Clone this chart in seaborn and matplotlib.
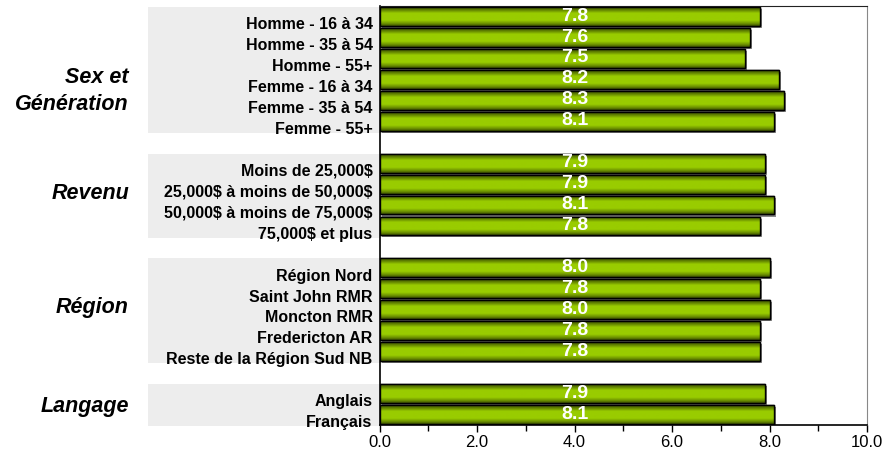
import matplotlib
matplotlib.use('Agg')
import matplotlib.pyplot as plt
from matplotlib import patheffects
from matplotlib.colors import LinearSegmentedColormap
from matplotlib.patches import Rectangle
from matplotlib.ticker import MultipleLocator, FormatStrFormatter
import matplotlib.transforms as mtransforms
import numpy as np
import pandas as pd
import seaborn as sns

# Data
groups = ["Sex et\nGénération", "Revenu", "Région", "Langage"]
categories = [
    ["Homme - 16 à 34", "Homme - 35 à 54", "Homme - 55+",
     "Femme - 16 à 34", "Femme - 35 à 54", "Femme - 55+"],
    ["Moins de 25,000$", "25,000$ à moins de 50,000$",
     "50,000$ à moins de 75,000$", "75,000$ et plus"],
    ["Région Nord", "Saint John RMR", "Moncton RMR",
     "Fredericton AR", "Reste de la Région Sud NB"],
    ["Anglais", "Français"],
]
scores = [
    [7.8, 7.6, 7.5, 8.2, 8.3, 8.1],
    [7.9, 7.9, 8.1, 7.8],
    [8.0, 7.8, 8.0, 7.8, 7.8],
    [7.9, 8.1],
]

# Layout: one empty slot between groups
rows, names, values, group_spans = [], [], [], []
pos = 0
for cats, vals in zip(categories, scores):
    start = pos
    for c, v in zip(cats, vals):
        rows.append(pos)
        names.append(c)
        values.append(v)
        pos += 1
    group_spans.append((start, pos - 1))
    pos += 1

df = pd.DataFrame({"row": rows, "score": values, "label": names})

sns.set_style("white")
plt.rcParams['font.family'] = ['Liberation Sans', 'DejaVu Sans']
plt.rcParams['text.parse_math'] = False  # "$" signs in labels
plt.rcParams['text.color'] = 'black'
plt.rcParams['xtick.labelcolor'] = 'black'
plt.rcParams['ytick.labelcolor'] = 'black'

fig = plt.figure(figsize=(8.88, 4.51), dpi=100)
ax = fig.add_axes([0.4274, 0.0576, 0.5490, 0.9291])

sns.barplot(data=df, x="score", y="row", orient="h", native_scale=True,
            color="#99cc00", edgecolor="black", linewidth=1.0, width=0.9,
            ax=ax, zorder=2)

# 3D-ish cylinder gradient on bars
grad_cmap = LinearSegmentedColormap.from_list(
    "cyl", [(0.0, "#3a4f00"), (0.14, "#5f8000"), (0.32, "#99cc00"),
            (0.70, "#99cc00"), (0.88, "#6b8f00"), (1.0, "#3a4f00")])
grad = np.linspace(0, 1, 64).reshape(-1, 1)
for patch in list(ax.patches):
    patch.set_path_effects([
        patheffects.SimplePatchShadow(offset=(1.5, -1.5), shadow_rgbFace="#8a8a8a", alpha=1.0),
        patheffects.Normal()])
    x0, y0 = patch.get_x(), patch.get_y()
    w, h = patch.get_width(), patch.get_height()
    im = ax.imshow(grad, cmap=grad_cmap, aspect="auto", origin="upper",
                   extent=(x0, x0 + w, y0 + h, y0), zorder=3, interpolation="bilinear")
    im.set_clip_path(patch)
    ax.add_patch(Rectangle((x0, y0), w, h, fill=False, edgecolor="black",
                           linewidth=1.0, zorder=4))

# value labels
for r, v in zip(rows, values):
    ax.text(4.0, r - 0.02, f"{v:.1f}", ha="center", va="center", color="white",
            fontsize=14, fontweight="bold", zorder=5)

ax.set_xlim(0, 10)
ax.set_ylim(rows[-1] + 0.5, -0.5)

# category labels, sitting slightly below bar centres
ax.set_yticks([r + 0.32 for r in rows])
ax.set_yticklabels(names, fontsize=11.5, fontweight="bold")
ax.tick_params(axis="y", length=0, pad=5)
ax.set_ylabel("")
ax.set_xlabel("")

ax.xaxis.set_major_locator(MultipleLocator(2))
ax.xaxis.set_minor_locator(MultipleLocator(1))
ax.xaxis.set_major_formatter(FormatStrFormatter("%.1f"))
ax.tick_params(axis="x", which="major", direction="out", length=5, width=1,
               color="black", labelsize=12, bottom=True, pad=2.5)
ax.tick_params(axis="x", which="minor", direction="out", length=4, width=1,
               color="black", bottom=True)

for side in ["left", "bottom"]:
    ax.spines[side].set_color("black")
    ax.spines[side].set_linewidth(1.2)
ax.spines["top"].set_color("#222222")
ax.spines["right"].set_color("#888888")
for s in ax.spines.values():
    s.set_visible(True)

# grey bands behind the category labels + group titles
blend = mtransforms.blended_transform_factory(ax.transAxes, ax.transData)
group_label_rows = [3.55, 8.45, 13.9, 18.6]
for (a, b), g, gy in zip(group_spans, groups, group_label_rows):
    ax.add_patch(Rectangle((-0.475, a - 0.45), 0.475, b - a + 1.0, transform=blend,
                           facecolor="#ededed", edgecolor="none", clip_on=False, zorder=0))
    ax.text(-0.514, gy, g, transform=blend, ha="right", va="center",
            fontsize=15.5, fontweight="bold", fontstyle="italic", linespacing=1.4)

fig.savefig("out.png", dpi=100)
